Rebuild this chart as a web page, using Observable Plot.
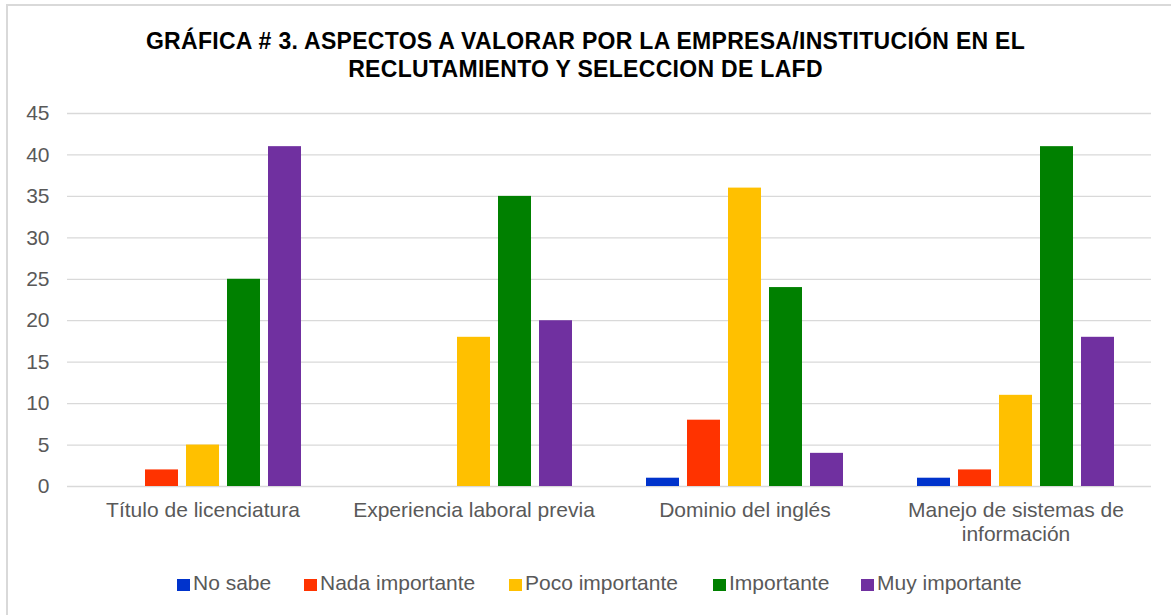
<!DOCTYPE html>
<html>
<head>
<meta charset="utf-8">
<script src="https://cdn.jsdelivr.net/npm/d3@7"></script>
<script src="https://cdn.jsdelivr.net/npm/@observablehq/plot@0.6"></script>
<style>
  html, body { margin: 0; padding: 0; background: #fff; }
  body { width: 1171px; height: 615px; position: relative; overflow: hidden; font-family: "Liberation Sans", Arial, sans-serif; }
  #frame { position: absolute; left: 6px; top: 4px; width: 1165px; height: 611px; border-left: 2px solid #d9d9d9; border-top: 2px solid #d9d9d9; box-sizing: border-box; }
  #title { position: absolute; left: 0; width: 1171px; top: 27px; text-align: center; font-weight: bold; font-size: 23px; line-height: 28px; letter-spacing: 0.3px; color: #000; }
  #chart { position: absolute; left: 0; top: 95px; }
  #legend { position: absolute; top: 571px; left: 0; width: 1171px; height: 24px; font-size: 21px; color: #595959; }
  .item { position: absolute; top: 0; white-space: nowrap; line-height: 24px; }
  .sw { display: inline-block; width: 13px; height: 12px; margin-right: 3px; vertical-align: -1px; }
</style>
</head>
<body>
<div id="frame"></div>
<div id="title">GRÁFICA # 3. ASPECTOS A VALORAR POR LA EMPRESA/INSTITUCIÓN EN EL<br>RECLUTAMIENTO Y SELECCION DE LAFD</div>
<div id="chart"></div>
<div id="legend"></div>
<script>
const categories = ["Título de licenciatura", "Experiencia laboral previa", "Dominio del inglés", "Manejo de sistemas de información"];
const categoryLabels = ["Título de licenciatura", "Experiencia laboral previa", "Dominio del inglés", "Manejo de sistemas de\ninformación"];
const series = ["No sabe", "Nada importante", "Poco importante", "Importante", "Muy importante"];
const colors = ["#0033CC", "#FF3300", "#FFC000", "#008000", "#7030A0"];
const noSabe = [0, 0, 1, 1];
const nadaImportante = [2, 0, 8, 2];
const pocoImportante = [5, 18, 36, 11];
const importante = [25, 35, 24, 41];
const muyImportante = [41, 20, 4, 18];
const yTicks = [0, 5, 10, 15, 20, 25, 30, 35, 40, 45];

const seriesValues = [noSabe, nadaImportante, pocoImportante, importante, muyImportante];
const data = [];
categories.forEach((c, i) => {
  series.forEach((s, j) => {
    data.push({category: c, series: s, value: seriesValues[j][i]});
  });
});
const labelMap = new Map(categories.map((c, i) => [c, categoryLabels[i]]));

const chart = Plot.plot({
  width: 1171,
  height: 460,
  marginLeft: 66,
  marginRight: 19,
  marginTop: 18,
  marginBottom: 69,
  style: {fontFamily: "'Liberation Sans', Arial, sans-serif", fontSize: "21px", color: "#595959", background: "transparent"},
  fx: {domain: categories, padding: 0, label: null, axis: null},
  x: {domain: series, axis: null, paddingInner: 0.2, paddingOuter: 0.871},
  y: {domain: [0, 45], axis: null},
  color: {domain: series, range: colors},
  marks: [
    Plot.ruleY(yTicks, {stroke: "#d9d9d9", strokeWidth: 1.3}),
    Plot.barY(data, {fx: "category", x: "series", y: "value", fill: "series"}),
    Plot.axisY({ticks: yTicks, tickSize: 0, tickPadding: 18, fontSize: 21, fill: "#595959", label: null}),
    Plot.axisFx({anchor: "bottom", tickSize: 0, tickPadding: 13, fontSize: 21, fill: "#595959", label: null, tickFormat: d => labelMap.get(d), lineHeight: 1.15})
  ]
});
document.getElementById("chart").appendChild(chart);

const legendX = [177, 304, 509, 713, 861];
const legend = document.getElementById("legend");
series.forEach((s, i) => {
  const el = document.createElement("div");
  el.className = "item";
  el.style.left = legendX[i] + "px";
  el.innerHTML = `<span class="sw" style="background:${colors[i]}"></span>${s}`;
  legend.appendChild(el);
});
</script>
</body>
</html>
